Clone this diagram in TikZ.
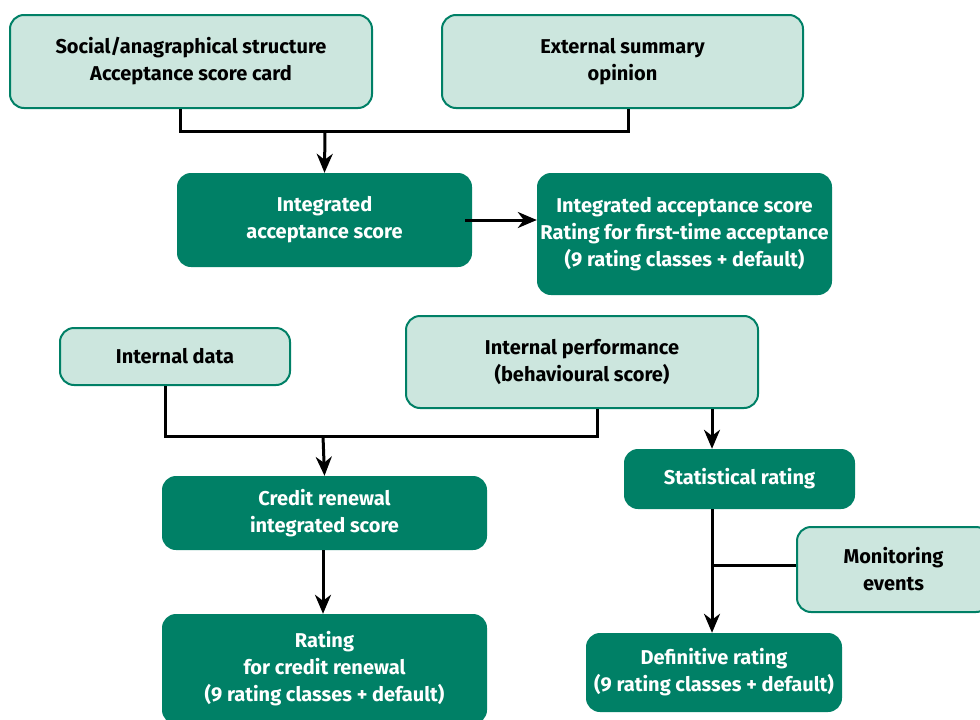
\documentclass[tikz,border=0pt]{standalone}
\usepackage{fontspec}
\setmainfont{Fira Sans}
\usetikzlibrary{arrows.meta}
\definecolor{darkgreen}{RGB}{0,128,102}
\definecolor{lightgreen}{RGB}{204,230,222}
\tikzset{
  box/.style={rounded corners=14pt, align=center, inner sep=0pt,
    font=\fontsize{20}{27}\selectfont\bfseries},
  lightbox/.style={box, draw=darkgreen, line width=2pt, fill=lightgreen, text=black},
  darkbox/.style={box, fill=darkgreen, text=white},
  link/.style={line width=3pt, black},
  arrow/.style={link, -{Stealth[length=19pt,width=16pt,inset=6pt]}}
}
\begin{document}
\begin{tikzpicture}[x=1pt, y=-1pt]
\clip (0,0) rectangle (980,720);

% acceptance part
\node[lightbox, minimum width=362, minimum height=93] (social) at (191,61.5)
  {Social/anagraphical structure\\Acceptance score card};
\node[lightbox, minimum width=361, minimum height=93] (external) at (622.5,61.5)
  {External summary\\opinion};
\node[darkbox, minimum width=295, minimum height=94] (intacc) at (324.5,220)
  {Integrated\\acceptance score};
\node[darkbox, minimum width=295, minimum height=122] (accrating) at (684.5,234)
  {Integrated acceptance score\\Rating for first-time acceptance\\(9 rating classes + default)};

% renewal part
\node[lightbox, minimum width=230, minimum height=57] (intdata) at (175,356.5)
  {Internal data};
\node[lightbox, minimum width=352, minimum height=92] (intperf) at (582,362)
  {Internal performance\\(behavioural score)};
\node[darkbox, minimum width=325, minimum height=74] (renewal) at (324.5,513)
  {Credit renewal\\integrated score};
\node[darkbox, minimum width=325, minimum height=110] (renewrating) at (324.5,669)
  {Rating\\for credit renewal\\(9 rating classes + default)};

% monitoring part
\node[darkbox, minimum width=231, minimum height=60] (statrating) at (739.5,479)
  {Statistical rating};
\node[lightbox, minimum width=193, minimum height=85] (monitor) at (893.5,569.5)
  {Monitoring\\events};
\node[darkbox, minimum width=256, minimum height=79] (definitive) at (714,672.5)
  {Definitive rating\\(9 rating classes + default)};

% connectors
\coordinate (topjoin) at (325,131);
\coordinate (midjoin) at (323,436);
\coordinate (monjoin) at (712,565);
\draw[link] ([xshift=-11pt]social.south) |- (topjoin) -| ([xshift=5.5pt]external.south);
\draw[arrow] (topjoin) -- (intacc.north);
\draw[arrow] ([xshift=-7pt]intacc.east) -- (accrating.west |- intacc.east);
\draw[link] ([xshift=-10pt]intdata.south) |- (midjoin) -| ([xshift=15pt]intperf.south);
\draw[arrow] (midjoin) -- (renewal.north);
\draw[arrow] ([xshift=130pt]intperf.south) -- (statrating.north -| 712,0);
\draw[arrow] (statrating.south -| 712,0) -- (definitive.north -| 712,0);
\draw[link] (monitor.west |- monjoin) -- (monjoin);
\draw[arrow] (renewal.south -| midjoin) -- (renewrating.north -| midjoin);

\end{tikzpicture}
\end{document}
